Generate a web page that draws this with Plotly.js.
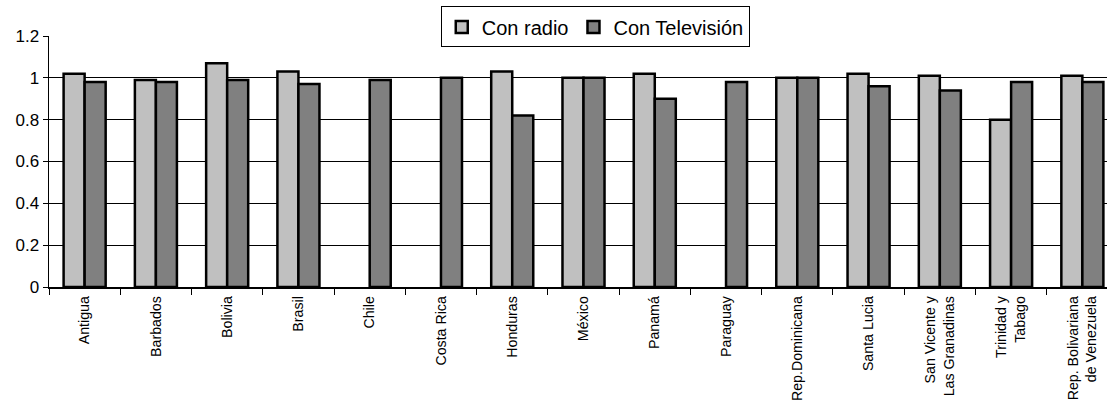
<!DOCTYPE html>
<html>
<head>
<meta charset="utf-8">
<script src="https://cdn.plot.ly/plotly-3.0.1.min.js"></script>
<style>
html,body{margin:0;padding:0;overflow:hidden;background:#fff;}
#chart{width:1130px;height:406px;}
</style>
</head>
<body>
<div id="chart"></div>
<script>
const categories = ["Antigua","Barbados","Bolivia","Brasil","Chile","Costa Rica","Honduras","México","Panamá","Paraguay","Rep.Dominicana","Santa Lucia","San Vicente y<br>Las Granadinas","Trinidad y<br>Tabago","Rep. Bolivariana<br>de Venezuela"];
const conRadio =      [1.02, 0.99, 1.07, 1.03, null, null, 1.03, 1.00, 1.02, null, 1.00, 1.02, 1.01, 0.80, 1.01];
const conTelevision = [0.98, 0.98, 0.99, 0.97, 0.99, 1.00, 0.82, 1.00, 0.90, 0.98, 1.00, 0.96, 0.94, 0.98, 0.98];
const yTicks = [0, 0.2, 0.4, 0.6, 0.8, 1, 1.2];

const font = "Liberation Sans, Arial, sans-serif";
const traces = [
  {type:"bar", name:"Con radio", x:categories, y:conRadio,
   marker:{color:"#C0C0C0", line:{color:"#000", width:2.5}}},
  {type:"bar", name:"Con Televisión", x:categories, y:conTelevision,
   marker:{color:"#808080", line:{color:"#000", width:2.5}}}
];
const layout = {
  width:1130, height:406,
  margin:{l:49, r:12, t:36, b:119, autoexpand:false},
  paper_bgcolor:"#fff", plot_bgcolor:"#fff",
  font:{family:font, color:"#000"},
  barmode:"group", bargap:0.41, bargroupgap:0,
  showlegend:true,
  legend:{orientation:"h", x:0.511, xanchor:"center", y:1.036, yanchor:"middle",
          bgcolor:"#fff", bordercolor:"#000", borderwidth:1,
          font:{family:font, size:20, color:"#000"}, traceorder:"normal",
          itemwidth:30},
  xaxis:{type:"category", tickangle:-90, tickson:"boundaries", ticks:"outside",
         ticklen:6, tickcolor:"#000", tickwidth:1, showgrid:false, automargin:false,
         showline:true, linecolor:"#000", linewidth:1.5, ticklabelstandoff:2,
         tickfont:{family:font, size:14.2, color:"#000"}},
  yaxis:{range:[0,1.2], tickvals:yTicks, ticktext:yTicks.map(String), automargin:false,
         ticks:"outside", ticklen:5, tickcolor:"#000", tickwidth:1,
         showgrid:true, gridcolor:"#000", gridwidth:1, zeroline:false,
         showline:true, linecolor:"#000", linewidth:1.5,
         tickfont:{family:font, size:17, color:"#000"}}
};
Plotly.newPlot("chart", traces, layout, {displayModeBar:false, staticPlot:true});
</script>
</body>
</html>
